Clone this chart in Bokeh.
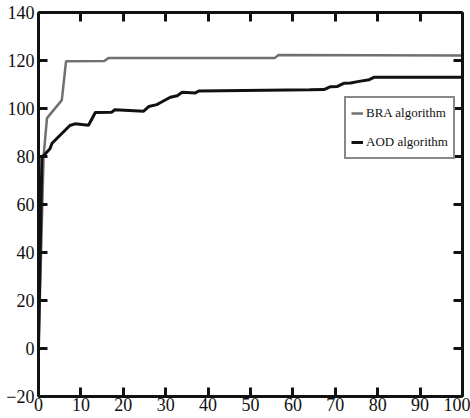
from bokeh.plotting import figure
from bokeh.models import Range1d, LinearAxis, FixedTicker
from bokeh.embed import file_html
from bokeh.resources import INLINE

x_ticks = [0, 10, 20, 30, 40, 50, 60, 70, 80, 90, 100]
y_ticks = [-20, 0, 20, 40, 60, 80, 100, 120, 140]

bra_x = [0, 1.2, 2.0, 5.5, 6.5, 15.5, 16.5, 55.7, 56.6, 100]
bra_y = [0, 80, 96, 103.5, 119.7, 119.8, 121.0, 121.0, 122.3, 122.1]

aod_x = [0, 0.8, 1.3, 2.7, 3.2, 7.4, 8.6, 11.8, 13.4, 17.2, 18.0, 24.8, 26.0, 27.9,
         28.7, 31.1, 32.7, 33.9, 37.0, 37.8, 64.0, 67.3, 68.9, 70.5, 72.0, 73.6,
         75.6, 78.0, 79.1, 100]
aod_y = [0, 80, 80.5, 83.2, 85.5, 92.9, 93.6, 93.0, 98.3, 98.4, 99.5, 98.9, 100.8, 101.6,
         102.4, 104.7, 105.3, 106.8, 106.5, 107.3, 107.8, 107.9, 109.1, 109.2, 110.5, 110.6,
         111.3, 112.0, 113.0, 113.0]

FONT = "Liberation Serif"

p = figure(width=470, height=418, output_backend="svg", toolbar_location=None,
           x_range=Range1d(0, 100), y_range=Range1d(-20, 140),
           min_border_left=38, min_border_right=8, min_border_top=12, min_border_bottom=22)
p.outline_line_color = None
p.xgrid.visible = False
p.ygrid.visible = False

p.line(bra_x, bra_y, line_color="#707070", line_width=2.5, legend_label="BRA algorithm")
p.line(aod_x, aod_y, line_color="#111111", line_width=3, legend_label="AOD algorithm")

def style(ax, ticks, labels=True):
    ax.ticker = FixedTicker(ticks=ticks)
    ax.axis_line_color = "#111111"
    ax.axis_line_width = 3
    ax.major_tick_line_color = "#111111"
    ax.major_tick_line_width = 3
    ax.major_tick_in = 9
    ax.major_tick_out = 0
    ax.minor_tick_line_color = None
    if labels:
        ax.major_label_text_font = FONT
        ax.major_label_text_font_size = "18px"
        ax.major_label_text_color = "#111111"
    else:
        ax.major_label_text_font_size = "1px"
        ax.major_label_text_alpha = 0
        ax.major_label_standoff = 0

style(p.xaxis[0], x_ticks)
p.xaxis[0].major_label_standoff = 1
style(p.yaxis[0], y_ticks)
p.yaxis[0].major_label_standoff = 4

top = LinearAxis()
style(top, x_ticks, labels=False)
p.add_layout(top, "above")
right = LinearAxis()
style(right, y_ticks, labels=False)
p.add_layout(right, "right")

lg = p.legend[0]
lg.location = (306, 237)
lg.margin = 0
lg.padding = 5
lg.spacing = 9
lg.glyph_height = 20
lg.label_height = 20
lg.glyph_width = 12
lg.label_standoff = 3
lg.label_text_font = FONT
lg.label_text_font_size = "13px"
lg.label_text_color = "#111111"
lg.border_line_color = "#111111"
lg.border_line_width = 2
lg.background_fill_alpha = 1

open("out.html", "w").write(file_html(p, INLINE))
